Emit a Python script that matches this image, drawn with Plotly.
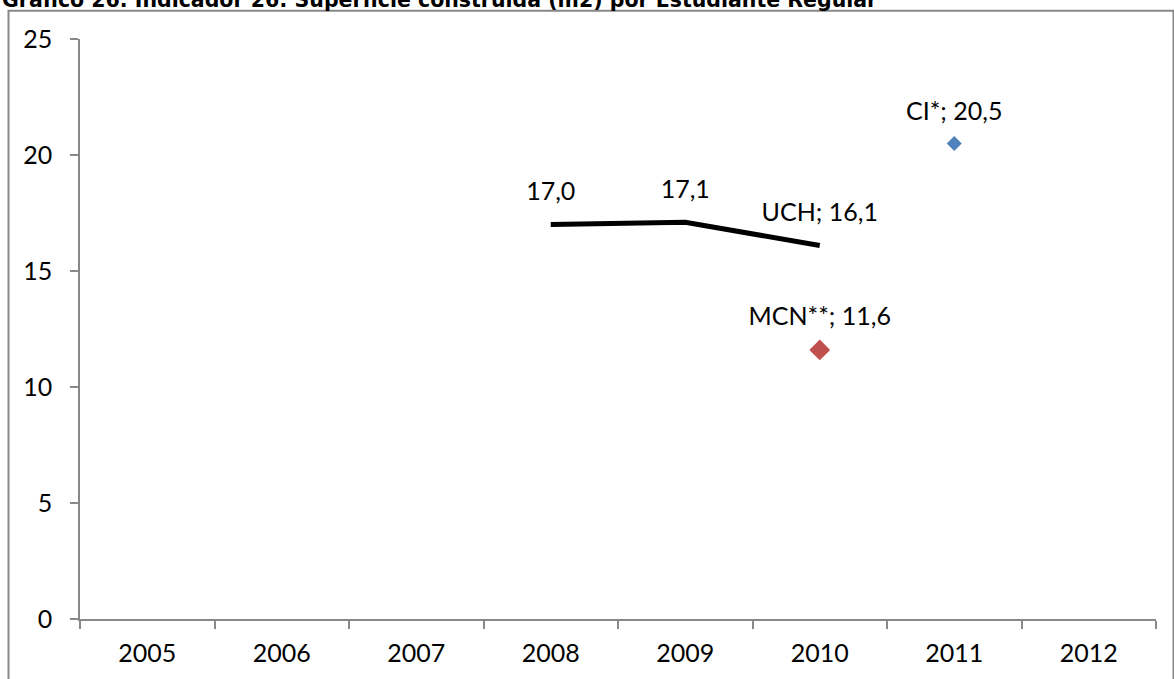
import plotly.graph_objects as go

years = ["2005", "2006", "2007", "2008", "2009", "2010", "2011", "2012"]
uch_years = ["2008", "2009", "2010"]
uch_values = [17.0, 17.1, 16.1]
mcn_years = ["2010"]
mcn_values = [11.6]
ci_years = ["2011"]
ci_values = [20.5]
y_ticks = [0, 5, 10, 15, 20, 25]
title = "Gráfico 26. Indicador 26: Superficie construida (m2) por Estudiante Regular"

def fmt(v):
    return f"{v:.1f}".replace(".", ",")

FONT = "Lato"
uch_text = [fmt(v) for v in uch_values]
uch_text[-1] = "UCH; " + uch_text[-1]
clear = "rgba(0,0,0,0)"
label_font = dict(family=FONT, size=25, color="black")

fig = go.Figure()
# UCH line
fig.add_trace(go.Scatter(
    x=uch_years, y=uch_values, mode="lines",
    line=dict(color="black", width=5),
    showlegend=False, hoverinfo="x+y"))
fig.add_trace(go.Scatter(
    x=uch_years, y=uch_values, mode="markers+text",
    marker=dict(size=28, color=clear),
    text=uch_text, textposition="top center", textfont=label_font,
    cliponaxis=False, showlegend=False, hoverinfo="skip"))
# MCN point
fig.add_trace(go.Scatter(
    x=mcn_years, y=mcn_values, mode="markers",
    marker=dict(symbol="diamond", size=16, color="#C0504D"),
    cliponaxis=False, showlegend=False))
fig.add_trace(go.Scatter(
    x=mcn_years, y=mcn_values, mode="markers+text",
    marker=dict(size=28, color=clear),
    text=["MCN**; " + fmt(v) for v in mcn_values], textposition="top center",
    textfont=label_font, cliponaxis=False, showlegend=False, hoverinfo="skip"))
# CI point
fig.add_trace(go.Scatter(
    x=ci_years, y=ci_values, mode="markers",
    marker=dict(symbol="diamond", size=11.5, color="#4F81BD"),
    cliponaxis=False, showlegend=False))
fig.add_trace(go.Scatter(
    x=ci_years, y=ci_values, mode="markers+text",
    marker=dict(size=26, color=clear),
    text=["CI*; " + fmt(v) for v in ci_values], textposition="top center",
    textfont=label_font, cliponaxis=False, showlegend=False, hoverinfo="skip"))

W, H = 1174, 679
L, R, T, B = 80, 18, 39, 57
pw, ph = W - L - R, H - T - B

def px_x(p):
    return (p - L) / pw

def px_y(p):
    return (H - B - p) / ph

fig.update_layout(
    width=W, height=H,
    margin=dict(l=L, r=R, t=T, b=B),
    paper_bgcolor="white", plot_bgcolor="white",
    font=dict(family=FONT, size=25, color="black"),
    xaxis=dict(type="category", categoryorder="array", categoryarray=years,
               range=[-0.5, len(years) - 0.5], tickmode="array", tickvals=years,
               ticks="outside", ticklen=8, tickcolor="#888888", tickwidth=1.5,
               tickson="boundaries", showline=True, linecolor="#888888", linewidth=1.5,
               showgrid=False, zeroline=False, ticklabelstandoff=11,
               tickfont=dict(family=FONT, size=25, color="black")),
    yaxis=dict(range=[0, 25], tickmode="array", tickvals=y_ticks,
               ticktext=[str(v) for v in y_ticks],
               ticks="outside", ticklen=8, tickcolor="#888888", tickwidth=1.5,
               showline=True, linecolor="#888888", linewidth=1.5,
               showgrid=False, zeroline=False, ticklabelstandoff=13,
               tickfont=dict(family=FONT, size=25, color="black")),
    shapes=[dict(type="rect", xref="paper", yref="paper",
                 x0=px_x(8.5), x1=px_x(1173.5), y0=px_y(700), y1=px_y(10.5),
                 line=dict(color="#888888", width=2), fillcolor="rgba(0,0,0,0)",
                 layer="below")],
    annotations=[dict(text="<b>" + title + "</b>", xref="paper", yref="paper",
                      x=px_x(0), y=px_y(-0.5), xanchor="left", yanchor="middle",
                      showarrow=False,
                      font=dict(family="DejaVu Sans", size=20.5, color="black"))],
)

fig.write_html("out.html", config={"displayModeBar": False},
               post_script="document.body.style.margin='0';document.body.style.overflow='hidden';")
